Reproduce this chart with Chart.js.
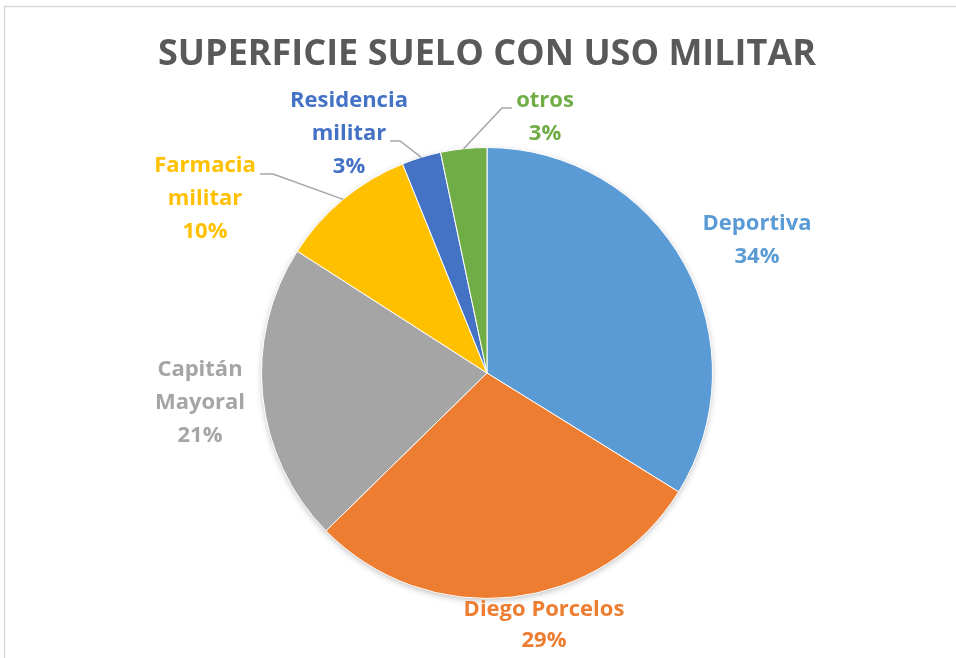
<!DOCTYPE html>
<html>
<head>
<meta charset="utf-8">
<script src="https://cdn.jsdelivr.net/npm/chart.js@4"></script>
<style>
  html, body { margin: 0; padding: 0; background: #fff; }
  #wrap { width: 956px; height: 658px; position: relative; }
</style>
</head>
<body>
<div id="wrap"><canvas id="pieChart" width="956" height="658"></canvas></div>
<script>
const titleText = 'SUPERFICIE SUELO CON USO MILITAR';
const labels = ['Deportiva', 'Diego Porcelos', 'Capitán Mayoral', 'Farmacia militar', 'Residencia militar', 'otros'];
const values = [33.8, 28.8, 21.4, 9.8, 2.8, 3.3];
const colors = ['#5B9BD5', '#ED7D31', '#A5A5A5', '#FFC000', '#4472C4', '#70AD47'];

// label text blocks, offsets from the pie centre (first line), plus optional leader elbows
const labelLayout = [
    { lines: ['Deportiva'], dx: 270, dy: -149 },
    { lines: ['Diego Porcelos'], dx: 57, dy: 237, lh: 31 },
    { lines: ['Capitán', 'Mayoral'], dx: -287, dy: -3 },
    { lines: ['Farmacia', 'militar'], dx: -282, dy: -207, leader: [[-227, -199], [-214, -199]] },
    { lines: ['Residencia', 'militar'], dx: -138, dy: -272, leader: [[-97, -232], [-87, -232]] },
    { lines: ['otros'], dx: 58, dy: -272, leader: [[25, -265], [15, -265]] }
];

const total = values.reduce((a, b) => a + b, 0);

const decorPlugin = {
    id: 'decor',
    beforeDraw(chart) {
        const ctx = chart.ctx;
        ctx.save();
        ctx.strokeStyle = '#d9d9d9';
        ctx.lineWidth = 1.5;
        ctx.beginPath();
        ctx.moveTo(4.5, 658);
        ctx.lineTo(4.5, 6.5);
        ctx.lineTo(956, 6.5);
        ctx.stroke();
        ctx.fillStyle = '#595959';
        ctx.font = 'bold 36px "Open Sans"';
        ctx.textAlign = 'center';
        ctx.textBaseline = 'middle';
        ctx.fillText(titleText, 487, 55);
        ctx.restore();
    },
    beforeDatasetsDraw(chart) {
        const arc = chart.getDatasetMeta(0).data[0];
        if (!arc) return;
        const { x, y, outerRadius } = arc.getProps(['x', 'y', 'outerRadius'], true);
        const ctx = chart.ctx;
        ctx.save();
        ctx.shadowColor = 'rgba(0,0,0,0.3)';
        ctx.shadowBlur = 7;
        ctx.shadowOffsetY = 2;
        ctx.fillStyle = '#fff';
        ctx.beginPath();
        ctx.arc(x, y, outerRadius - 1, 0, Math.PI * 2);
        ctx.fill();
        ctx.restore();
    },
    afterDatasetsDraw(chart) {
        const ctx = chart.ctx;
        const meta = chart.getDatasetMeta(0);
        ctx.save();
        meta.data.forEach((arc, i) => {
            const p = arc.getProps(['x', 'y', 'startAngle', 'endAngle', 'outerRadius'], true);
            const lay = labelLayout[i];
            const mid = (p.startAngle + p.endAngle) / 2;
            if (lay.leader) {
                ctx.strokeStyle = '#a6a6a6';
                ctx.lineWidth = 1.5;
                ctx.beginPath();
                ctx.moveTo(p.x + lay.leader[0][0], p.y + lay.leader[0][1]);
                ctx.lineTo(p.x + lay.leader[1][0], p.y + lay.leader[1][1]);
                ctx.lineTo(p.x + Math.cos(mid) * p.outerRadius, p.y + Math.sin(mid) * p.outerRadius);
                ctx.stroke();
            }
            const pct = Math.round(values[i] / total * 100) + '%';
            const lines = lay.lines.concat([pct]);
            const lh = lay.lh || 33;
            ctx.fillStyle = colors[i];
            ctx.font = 'bold 22px "Open Sans"';
            ctx.textAlign = 'center';
            ctx.textBaseline = 'middle';
            lines.forEach((t, k) => {
                ctx.fillText(t, p.x + lay.dx, p.y + lay.dy + k * lh);
            });
        });
        ctx.restore();
    }
};

new Chart(document.getElementById('pieChart'), {
    type: 'pie',
    data: {
        labels: labels,
        datasets: [{
            data: values,
            backgroundColor: colors,
            borderColor: '#ffffff',
            borderWidth: 1
        }]
    },
    options: {
        responsive: false,
        animation: false,
        layout: { padding: { top: 147, bottom: 59, left: 100, right: 82 } },
        plugins: {
            legend: { display: false },
            title: { display: false },
            tooltip: { enabled: false }
        }
    },
    plugins: [decorPlugin]
});
</script>
</body>
</html>
